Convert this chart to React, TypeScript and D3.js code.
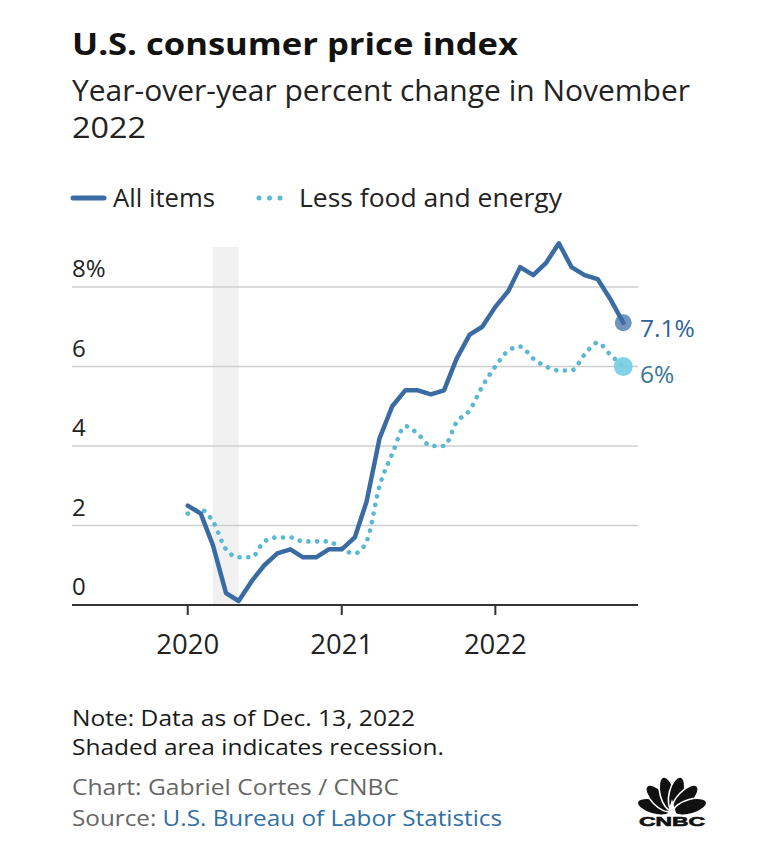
import * as d3 from "d3";
import React from "react";

// monthly year-over-year % change, Jan 2020 .. Nov 2022
const allItems = [
	2.5, 2.3, 1.5, 0.3, 0.1, 0.6, 1.0, 1.3, 1.4, 1.2, 1.2, 1.4,
	1.4, 1.7, 2.6, 4.2, 5.0, 5.4, 5.4, 5.3, 5.4, 6.2, 6.8, 7.0,
	7.5, 7.9, 8.5, 8.3, 8.6, 9.1, 8.5, 8.3, 8.2, 7.7, 7.1,
];
const lessFoodEnergy = [
	2.3, 2.4, 2.1, 1.4, 1.2, 1.2, 1.6, 1.7, 1.7, 1.6, 1.6, 1.6,
	1.4, 1.3, 1.6, 3.0, 3.8, 4.5, 4.3, 4.0, 4.0, 4.6, 4.9, 5.5,
	6.0, 6.4, 6.5, 6.2, 6.0, 5.9, 5.9, 6.3, 6.6, 6.3, 6.0,
];
const yTicks = [0, 2, 4, 6, 8];
const yearTicks = [2020, 2021, 2022];
const recession = [new Date(2020, 2, 1), new Date(2020, 4, 1)];
const endLabels = ["7.1%", "6%"];

const FONT = "'Open Sans', Lato, sans-serif";
const DARK = "#3a6ca3";
const LIGHT = "#5bb8d4";

const months = d3.timeMonths(new Date(2020, 0, 1), new Date(2022, 11, 1));

// text stretched to the width it takes in the original (wider typeface)
const T = ({ w, ...rest }: any) => (
	<text textLength={w} lengthAdjust="spacingAndGlyphs" {...rest} />
);

const CnbcLogo = ({ x, y }: { x: number; y: number }) => {
	const angles = [-74, -44, -14, 14, 44, 74];
	return (
		<g transform={`translate(${x},${y})`}>
			{angles.map((a) => (
				<ellipse
					key={a}
					cx={0}
					cy={-19}
					rx={7.4}
					ry={17}
					fill="#111"
					stroke="#fff"
					strokeWidth={1.6}
					transform={`rotate(${a})`}
				/>
			))}
			<path d="M-4,1 L0,-13 L4,1 Z" fill="#fff" />
			<text
				x={-33}
				y={13.5}
				textLength={66}
				lengthAdjust="spacingAndGlyphs"
				fontFamily="'Liberation Sans', 'DejaVu Sans', sans-serif"
				fontWeight={700}
				fontSize={13}
				fill="#111"
				stroke="#111"
				strokeWidth={0.6}
			>
				CNBC
			</text>
		</g>
	);
};

const App = () => {
	const x = d3
		.scaleTime()
		.domain([new Date(2019, 3, 1), new Date(2022, 11, 6)])
		.range([72, 638]);
	const y = d3.scaleLinear().domain([0, 8]).range([605, 287]);

	const solid = d3
		.line<number>()
		.x((_, i) => x(months[i]))
		.y((d) => y(d));
	const dotted = d3
		.line<number>()
		.x((_, i) => x(months[i]))
		.y((d) => y(d))
		.curve(d3.curveMonotoneX);

	const last = months.length - 1;
	const [x0, x1] = x.range();

	return (
		<div style={{ position: "absolute", left: 0, top: 0 }}>
			<svg width={777} height={850} style={{ display: "block" }} fontFamily={FONT}>
				<rect width={777} height={850} fill="#fff" />
				<T x={72} y={55} w={446} fontSize={30} fontWeight={700} fill="#121212">
					U.S. consumer price index
				</T>
				<T x={72} y={101} w={618} fontSize={29} fill="#222">
					Year-over-year percent change in November
				</T>
				<T x={72} y={138} w={74} fontSize={29} fill="#222">
					2022
				</T>

				{/* legend */}
				<line x1={73} x2={104} y1={198} y2={198} stroke={DARK} strokeWidth={5} strokeLinecap="round" />
				<T x={113} y={207} w={102} fontSize={25} fill="#222">
					All items
				</T>
				{[259, 269.5, 280].map((cx) => (
					<circle key={cx} cx={cx} cy={198} r={2.5} fill={LIGHT} />
				))}
				<T x={299} y={207} w={263} fontSize={25} fill="#222">
					Less food and energy
				</T>

				{/* recession */}
				<rect
					x={x(recession[0])}
					y={247}
					width={x(recession[1]) - x(recession[0])}
					height={y(0) - 247}
					fill="#f0f0f0"
				/>

				{/* grid */}
				{yTicks.map((t) => (
					<g key={t}>
						{t > 0 && (
							<line x1={x0} x2={x1} y1={y(t)} y2={y(t)} stroke="#cfcfcf" strokeWidth={1.5} />
						)}
						<text x={72} y={y(t) - 10} fontSize={24} fill="#222">
							{t === 8 ? "8%" : t}
						</text>
					</g>
				))}

				{/* x axis */}
				<line x1={x0} x2={x1} y1={y(0)} y2={y(0)} stroke="#333" strokeWidth={2} />
				{yearTicks.map((yr) => {
					const tx = x(new Date(yr, 0, 1));
					return (
						<g key={yr}>
							<line x1={tx} x2={tx} y1={y(0)} y2={y(0) + 10} stroke="#333" strokeWidth={2} />
							<text x={tx} y={654} textAnchor="middle" fontSize={27.5} fill="#222">
								{yr}
							</text>
						</g>
					);
				})}

				{/* series */}
				<path
					d={dotted(lessFoodEnergy) || ""}
					fill="none"
					stroke={LIGHT}
					strokeWidth={4.6}
					strokeLinecap="round"
					strokeDasharray="0.1 8.6"
				/>
				<path
					d={solid(allItems) || ""}
					fill="none"
					stroke={DARK}
					strokeWidth={4.5}
					strokeLinejoin="round"
					strokeLinecap="round"
				/>

				<circle cx={x(months[last])} cy={y(allItems[last])} r={8.5} fill={DARK} opacity={0.72} />
				<circle cx={x(months[last])} cy={y(lessFoodEnergy[last])} r={9.5} fill="#74cde4" opacity={0.9} />
				<text x={640} y={337} fontSize={24.5} fill="#2f6398">
					{endLabels[0]}
				</text>
				<text x={640} y={383} fontSize={24.5} fill="#3a7596">
					{endLabels[1]}
				</text>

				{/* footer */}
				<T x={72} y={726} w={343} fontSize={21} fill="#1a1a1a">
					Note: Data as of Dec. 13, 2022
				</T>
				<T x={72} y={755} w={372} fontSize={21} fill="#1a1a1a">
					Shaded area indicates recession.
				</T>
				<T x={72} y={795} w={327} fontSize={21} fill="#666">
					Chart: Gabriel Cortes / CNBC
				</T>
				<T x={72} y={826} w={430} fontSize={21} fill="#666">
					Source: <tspan fill="#2f6fa3">U.S. Bureau of Labor Statistics</tspan>
				</T>

				<CnbcLogo x={672} y={812} />
			</svg>
		</div>
	);
};

export default App;
